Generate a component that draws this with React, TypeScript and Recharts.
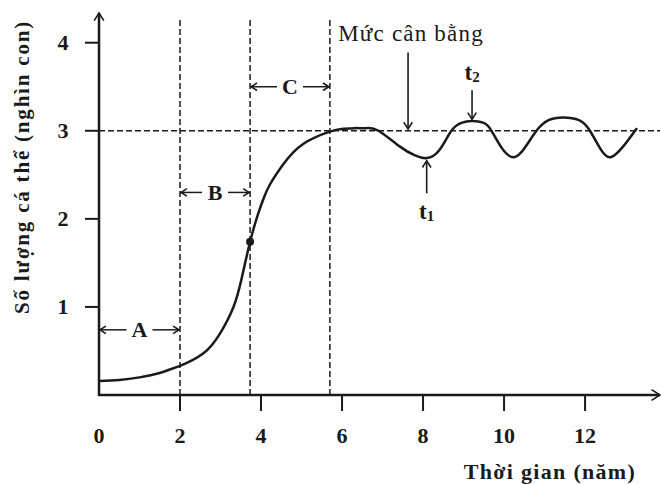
import React from "react";
import {
  ComposedChart,
  Line,
  XAxis,
  YAxis,
  ReferenceLine,
  ReferenceDot,
} from "recharts";

// Population growth toward carrying capacity, then oscillation around it.
const TIME = [
  0, 0.5, 1, 1.5, 1.75, 2, 2.57, 2.99, 3.32, 3.52, 3.73, 3.93, 4.07, 4.22,
  4.55, 5.04, 5.7, 6.0, 6.3, 6.6, 6.9, 7.43, 7.8, 8.09, 8.4, 8.7, 8.95, 9.2,
  9.5, 9.69, 9.95, 10.23, 10.5, 10.8, 11.1, 11.46, 11.85, 12.12, 12.4, 12.62,
  12.9, 13.28,
];
const POPULATION = [
  0.16, 0.17, 0.2, 0.25, 0.29, 0.33, 0.47, 0.7, 1.0, 1.32, 1.74, 2.06, 2.24,
  2.39, 2.62, 2.85, 2.99, 3.02, 3.03, 3.03, 3.0, 2.82, 2.72, 2.69, 2.78, 3.0,
  3.09, 3.11, 3.09, 3.0, 2.8, 2.7, 2.8, 3.0, 3.12, 3.15, 3.12, 3.0, 2.78, 2.7,
  2.8, 3.03,
];
const X_TICKS = [0, 2, 4, 6, 8, 10, 12];
const Y_TICKS = [1, 2, 3, 4];
const PHASE_BOUNDS = [2, 3.73, 5.7];
const EQUILIBRIUM = 3;
const INFLECTION = { x: 3.73, y: 1.74 };

const data = TIME.map((x, i) => ({ x, y: POPULATION[i] }));

const INK = "#1a1a1a";
const FONT = '"Liberation Serif", "Times New Roman", serif';

function head(x: number, y: number, ang: number, size = 8) {
  const a1 = ang + Math.PI * 0.82;
  const a2 = ang - Math.PI * 0.82;
  return (
    <path
      d={`M${x + size * Math.cos(a1)},${y + size * Math.sin(a1)} L${x},${y} L${x + size * Math.cos(a2)},${y + size * Math.sin(a2)}`}
      fill="none"
      stroke={INK}
      strokeWidth={1.6}
    />
  );
}

// single arrow, tip at (x2, y2)
const arrow = (extra?: (p: any) => React.ReactNode) => (p: any) => {
  const ang = Math.atan2(p.y2 - p.y1, p.x2 - p.x1);
  return (
    <g>
      <line x1={p.x1} y1={p.y1} x2={p.x2} y2={p.y2} stroke={INK} strokeWidth={1.6} />
      {head(p.x2, p.y2, ang)}
      {extra ? extra(p) : null}
    </g>
  );
};

// "<- A ->" span marker
const span = (letter: string) => (p: any) => {
  const mid = (p.x1 + p.x2) / 2;
  return (
    <g>
      <line x1={p.x1 + 1} y1={p.y1} x2={mid - 13} y2={p.y1} stroke={INK} strokeWidth={1.5} />
      {head(p.x1 + 1, p.y1, Math.PI, 7)}
      <line x1={mid + 13} y1={p.y1} x2={p.x2 - 1} y2={p.y1} stroke={INK} strokeWidth={1.5} />
      {head(p.x2 - 1, p.y1, 0, 7)}
      <text
        x={mid}
        y={p.y1}
        textAnchor="middle"
        dominantBaseline="central"
        fontFamily={FONT}
        fontWeight="bold"
        fontSize={22}
        fill={INK}
      >
        {letter}
      </text>
    </g>
  );
};

const XTick = (p: any) => (
  <g>
    {p.payload.value !== 0 && (
      <line x1={p.x} y1={p.y} x2={p.x} y2={p.y + 16} stroke={INK} strokeWidth={2} />
    )}
    <text
      x={p.x}
      y={p.y + 40}
      textAnchor="middle"
      dominantBaseline="central"
      fontFamily={FONT}
      fontWeight="bold"
      fontSize={22}
      fill={INK}
    >
      {p.payload.value}
    </text>
  </g>
);

const YTick = (p: any) => (
  <g>
    <line x1={p.x - 14} y1={p.y} x2={p.x} y2={p.y} stroke={INK} strokeWidth={2} />
    <text
      x={p.x - 36}
      y={p.y}
      textAnchor="middle"
      dominantBaseline="central"
      fontFamily={FONT}
      fontWeight="bold"
      fontSize={22}
      fill={INK}
    >
      {p.payload.value}
    </text>
  </g>
);

const sub = (base: string, idx: string) => (
  <>
    {base}
    <tspan fontSize={15} dy={5}>
      {idx}
    </tspan>
  </>
);

export default function App() {
  return (
    <div style={{ position: "absolute", left: 0, top: 0, background: "#fff" }}>
      <ComposedChart
        width={661}
        height={484}
        data={data}
        margin={{ top: 11, right: 1, bottom: 0, left: 0 }}
      >
        <XAxis
          dataKey="x"
          type="number"
          domain={[0, 13.85]}
          ticks={X_TICKS}
          axisLine={false}
          tickLine={false}
          tickSize={0}
          tickMargin={0}
          height={89}
          tick={<XTick />}
          label={(lp: any) => (
            <text
              x={lp.viewBox.x + 451}
              y={lp.viewBox.y + 76}
              textAnchor="middle"
              dominantBaseline="central"
              fontFamily={FONT}
              fontWeight="bold"
              fontSize={22}
              letterSpacing={1.3}
              fill={INK}
            >
              Thời gian (năm)
            </text>
          )}
        />
        <YAxis
          type="number"
          domain={[0, 4.36]}
          ticks={Y_TICKS}
          axisLine={false}
          tickLine={false}
          tickSize={0}
          tickMargin={0}
          width={99}
          tick={<YTick />}
          label={(lp: any) => (
            <text
              transform={`translate(${lp.viewBox.x + 22},${lp.viewBox.y + 156}) rotate(-90)`}
              textAnchor="middle"
              dominantBaseline="central"
              fontFamily={FONT}
              fontWeight="bold"
              fontSize={21}
              letterSpacing={1.8}
              fill={INK}
            >
              Số lượng cá thể (nghìn con)
            </text>
          )}
        />

        {/* equilibrium level */}
        <ReferenceLine
          segment={[
            { x: 0, y: EQUILIBRIUM },
            { x: 13.85, y: EQUILIBRIUM },
          ]}
          stroke={INK}
          strokeWidth={1.5}
          strokeDasharray="6 3"
        />
        {PHASE_BOUNDS.map((b) => (
          <ReferenceLine
            key={b}
            segment={[
              { x: b, y: 0 },
              { x: b, y: 4.26 },
            ]}
            stroke={INK}
            strokeWidth={1.5}
            strokeDasharray="6 3"
          />
        ))}

        {/* axes with arrow heads */}
        <ReferenceLine
          segment={[
            { x: 0, y: 0 },
            { x: 13.85, y: 0 },
          ]}
          shape={(p: any) => (
            <g>
              <line x1={p.x1 - 1} y1={p.y1} x2={p.x2} y2={p.y2} stroke={INK} strokeWidth={2.5} />
              {head(p.x2, p.y2, 0, 10)}
            </g>
          )}
        />
        <ReferenceLine
          segment={[
            { x: 0, y: 0 },
            { x: 0, y: 4.36 },
          ]}
          shape={(p: any) => (
            <g>
              <line x1={p.x1} y1={p.y1 + 1} x2={p.x2} y2={p.y2 + 2} stroke={INK} strokeWidth={2.5} />
              {head(p.x2, p.y2 + 2, -Math.PI / 2, 9)}
            </g>
          )}
        />

        {/* phase spans */}
        <ReferenceLine segment={[{ x: 0, y: 0.74 }, { x: 2, y: 0.74 }]} shape={span("A")} />
        <ReferenceLine segment={[{ x: 2, y: 2.3 }, { x: 3.73, y: 2.3 }]} shape={span("B")} />
        <ReferenceLine segment={[{ x: 3.73, y: 3.5 }, { x: 5.7, y: 3.5 }]} shape={span("C")} />

        {/* annotations */}
        <ReferenceLine
          segment={[{ x: 7.63, y: 3.89 }, { x: 7.63, y: 3.02 }]}
          shape={arrow((p) => (
            <text
              x={p.x1 + 3}
              y={p.y1 - 19}
              textAnchor="middle"
              dominantBaseline="central"
              fontFamily={FONT}
              fontSize={23}
              letterSpacing={1.2}
              fill={INK}
            >
              Mức cân bằng
            </text>
          ))}
        />
        <ReferenceLine
          segment={[{ x: 9.21, y: 3.46 }, { x: 9.21, y: 3.13 }]}
          shape={arrow((p) => (
            <text
              x={p.x1}
              y={p.y1 - 18}
              textAnchor="middle"
              dominantBaseline="central"
              fontFamily={FONT}
              fontWeight="bold"
              fontSize={23}
              fill={INK}
            >
              {sub("t", "2")}
            </text>
          ))}
        />
        <ReferenceLine
          segment={[{ x: 8.09, y: 2.29 }, { x: 8.09, y: 2.66 }]}
          shape={arrow((p) => (
            <text
              x={p.x1}
              y={p.y1 + 18}
              textAnchor="middle"
              dominantBaseline="central"
              fontFamily={FONT}
              fontWeight="bold"
              fontSize={23}
              fill={INK}
            >
              {sub("t", "1")}
            </text>
          ))}
        />

        <Line
          type="natural"
          dataKey="y"
          stroke={INK}
          strokeWidth={2.5}
          dot={false}
          activeDot={false}
          isAnimationActive={false}
        />
        <ReferenceDot x={INFLECTION.x} y={INFLECTION.y} r={4} fill={INK} stroke="none" />
      </ComposedChart>
    </div>
  );
}
